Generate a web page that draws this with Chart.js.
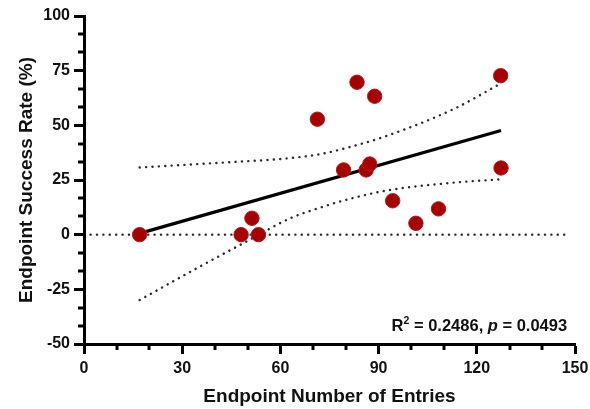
<!DOCTYPE html>
<html>
<head>
<meta charset="utf-8">
<script src="https://cdn.jsdelivr.net/npm/chart.js@4.4.0/dist/chart.umd.min.js"></script>
<style>
  html, body { margin: 0; padding: 0; background: #fff; }
  canvas { display: block; }
</style>
</head>
<body>
<canvas id="c" width="590" height="409"></canvas>
<script>
// Endpoint entries vs. success rate
const entries     = [17, 48, 51.3, 53.3, 71.3, 83.4, 88.8, 79.3, 86.2, 87.3, 127.3, 127.4, 94.3, 101.4, 108.3];
const successRate = [0, 0, 7.5, 0, 52.8, 69.7, 63.3, 29.6, 29.6, 32.3, 72.7, 30.5, 15.5, 5.2, 11.8];

// Fitted line and its 95% confidence band
const fitX   = [17, 127.4];
const fitY   = [0.6, 47.6];
const upperX = [17, 45, 60, 72, 80, 92.5, 113, 127.4];
const upperY = [30.7, 33.2, 34.6, 36.8, 39.6, 45.2, 57.5, 69.2];
const lowerX = [17, 34.4, 49.3, 63, 72, 80, 92.5, 113, 127.4];
const lowerY = [-29.9, -15.4, -3.4, 7.5, 12.3, 15.9, 20.2, 23.8, 25.3];

// Reference line at zero
const zeroX = [2, 148];
const zeroY = [0, 0];

// Axis ticks
const xTicks = [0, 30, 60, 90, 120, 150];
const yTicks = [-50, -25, 0, 25, 50, 75, 100];
const xMinorStep = 10;
const yMinorStep = 25 / 3;

const statR2 = '0.2486';
const statP  = '0.0493';

const FONT = '"Liberation Sans", Arial, Helvetica, sans-serif';
const toXY = (xs, ys) => xs.map((x, i) => ({ x: x, y: ys[i] }));

const dotted = {
  showLine: true,
  pointRadius: 0,
  borderColor: '#2a2a2a',
  borderWidth: 2.4,
  borderDash: [0.1, 6.3],
  borderCapStyle: 'round',
  fill: false
};

const minorTicks = {
  id: 'minorTicks',
  afterDraw(chart) {
    const ctx = chart.ctx;
    const xs = chart.scales.x, ys = chart.scales.y;
    const area = chart.chartArea;
    ctx.save();
    ctx.strokeStyle = '#000';
    ctx.lineWidth = 3;
    for (let v = xs.min; v <= xs.max + 1e-9; v += xMinorStep) {
      if (xTicks.some(t => Math.abs(t - v) < 1e-6)) continue;
      const px = Math.round(xs.getPixelForValue(v));
      ctx.beginPath();
      ctx.moveTo(px, area.bottom);
      ctx.lineTo(px, area.bottom + 6);
      ctx.stroke();
    }
    for (let k = 0; ; k++) {
      const v = ys.min + k * yMinorStep;
      if (v > ys.max + 1e-6) break;
      if (yTicks.some(t => Math.abs(t - v) < 1e-6)) continue;
      const py = Math.round(ys.getPixelForValue(v));
      ctx.beginPath();
      ctx.moveTo(area.left, py);
      ctx.lineTo(area.left - 6, py);
      ctx.stroke();
    }
    ctx.restore();
  }
};

const statsLabel = {
  id: 'statsLabel',
  afterDraw(chart) {
    const ctx = chart.ctx;
    const right = chart.scales.x.getPixelForValue(147.6);
    const base = chart.scales.y.getPixelForValue(-44);
    const parts = [
      { t: 'R', f: 'bold 16.5px ' + FONT, dy: 0 },
      { t: '2', f: 'bold 10.5px ' + FONT, dy: -7 },
      { t: ' = ' + statR2 + ', ', f: 'bold 16.5px ' + FONT, dy: 0 },
      { t: 'p', f: 'italic bold 16.5px ' + FONT, dy: 0 },
      { t: ' = ' + statP, f: 'bold 16.5px ' + FONT, dy: 0 }
    ];
    ctx.save();
    ctx.fillStyle = '#111';
    ctx.textBaseline = 'alphabetic';
    ctx.textAlign = 'left';
    let total = 0;
    parts.forEach(p => { ctx.font = p.f; p.w = ctx.measureText(p.t).width; total += p.w; });
    let x = right - total;
    parts.forEach(p => { ctx.font = p.f; ctx.fillText(p.t, x, base + p.dy); x += p.w; });
    ctx.restore();
  }
};

new Chart(document.getElementById('c'), {
  type: 'scatter',
  data: {
    datasets: [
      {
        label: 'Endpoints',
        data: toXY(entries, successRate),
        backgroundColor: '#a60000',
        borderColor: '#b51a1a',
        borderWidth: 1,
        pointRadius: 7.2,
        order: 0
      },
      {
        label: 'Linear fit',
        data: toXY(fitX, fitY),
        showLine: true,
        pointRadius: 0,
        borderColor: '#000',
        borderWidth: 3.2,
        order: 1
      },
      Object.assign({ label: 'Upper 95% CI', data: toXY(upperX, upperY), cubicInterpolationMode: 'monotone', order: 2 }, dotted),
      Object.assign({ label: 'Lower 95% CI', data: toXY(lowerX, lowerY), cubicInterpolationMode: 'monotone', order: 3 }, dotted),
      Object.assign({ label: 'Zero', data: toXY(zeroX, zeroY), order: 4 }, dotted)
    ]
  },
  options: {
    responsive: false,
    devicePixelRatio: 1,
    animation: false,
    layout: { padding: { top: 16, right: 15, bottom: 0, left: 0 } },
    plugins: { legend: { display: false }, tooltip: { enabled: false } },
    scales: {
      x: {
        type: 'linear',
        min: 0, max: 150,
        afterBuildTicks: s => { s.ticks = xTicks.map(v => ({ value: v })); },
        afterFit: s => { s.height = 65; s.paddingLeft = 0; s.paddingRight = 0; },
        grid: { drawOnChartArea: false, drawTicks: true, tickLength: 10, tickWidth: 3, tickColor: '#000' },
        border: { display: true, color: '#000', width: 3 },
        ticks: { color: '#111', padding: 5, maxRotation: 0, autoSkip: false,
                 font: { family: FONT, size: 16, weight: 'bold' } },
        title: { display: true, text: 'Endpoint Number of Entries', color: '#111',
                 font: { family: FONT, size: 19, weight: 'bold' }, padding: { top: 0, bottom: 1 } }
      },
      y: {
        type: 'linear',
        min: -50, max: 100,
        afterBuildTicks: s => { s.ticks = yTicks.map(v => ({ value: v })); },
        afterFit: s => { s.width = 84; s.paddingTop = 0; s.paddingBottom = 0; },
        grid: { drawOnChartArea: false, drawTicks: true, tickLength: 10, tickWidth: 3, tickColor: '#000' },
        border: { display: true, color: '#000', width: 3 },
        ticks: { color: '#111', padding: 4, autoSkip: false,
                 font: { family: FONT, size: 16, weight: 'bold' } },
        title: { display: true, text: 'Endpoint Success Rate (%)', color: '#111',
                 font: { family: FONT, size: 19, weight: 'bold' }, padding: { top: 15, bottom: 0 } }
      }
    }
  },
  plugins: [minorTicks, statsLabel]
});
</script>
</body>
</html>
